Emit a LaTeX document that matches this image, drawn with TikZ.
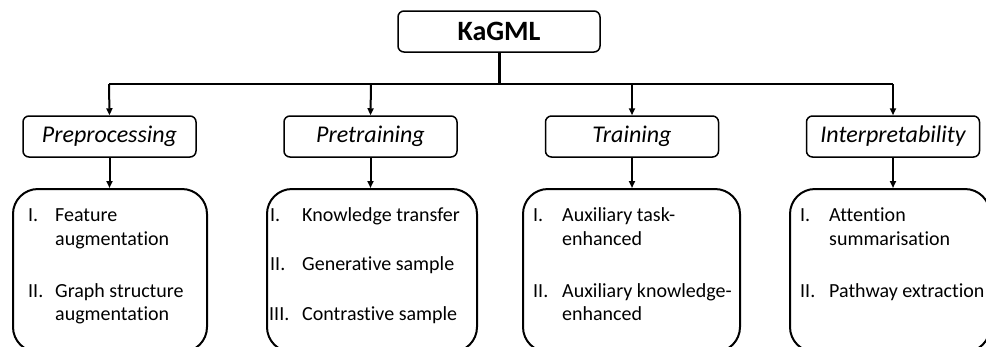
\documentclass[tikz,border=0pt]{standalone}
\usepackage{fontspec}
\setmainfont{Carlito}[Ligatures=NoCommon]
\usetikzlibrary{arrows.meta}
\tikzset{
  topbox/.style={draw, line width=1.5pt, rounded corners=6pt, minimum width=202pt, minimum height=41pt, inner sep=0pt, font=\fontsize{28}{32}\selectfont\bfseries},
  catbox/.style={draw, line width=1.5pt, rounded corners=6pt, minimum width=173pt, minimum height=41pt, inner sep=0pt, font=\fontsize{24}{28}\selectfont\itshape},
  itembox/.style={draw, line width=2pt, rounded corners=25pt, minimum height=163pt, inner sep=0pt},
  itemtxt/.style={anchor=base west, inner sep=0pt, font=\fontsize{20}{24}\selectfont},
  conn/.style={line width=2pt, -{Triangle[width=6pt,length=7pt]}},
}
\begin{document}
\begin{tikzpicture}[x=1pt,y=-1pt]
\useasboundingbox (0,0) rectangle (986,346);
\clip (0,0) rectangle (986,346);
% top
\node[topbox] (kagml) at (499,31.5) {KaGML};
\coordinate (hub) at (499,84);
\coordinate (j1) at (109,84);
\coordinate (j2) at (371,84);
\coordinate (j3) at (632,84);
\coordinate (j4) at (893,84);
% categories
\node[catbox] (pre) at (109.5,136.5) {Preprocessing};
\node[catbox] (pt) at (370.5,136.5) {Pretraining};
\node[catbox] (tr) at (632,136.5) {Training};
\node[catbox] (ip) at (893,136.5) {Interpretability};
% lower boxes
\node[itembox, minimum width=194pt] (preb) at (110,270.5) {};
\node[itembox, minimum width=210pt] (ptb) at (372,270.5) {};
\node[itembox, minimum width=217pt] (trb) at (631.5,270.5) {};
\node[itembox, minimum width=200pt] (ipb) at (890,270.5) {};
% connectors
\draw[line width=3pt] (kagml.south) -- (hub);
\draw[line width=2.5pt] (j1) -- (j4);
\draw[conn] (j1) -- (pre.north);
\draw[conn] (j2) -- (pt.north);
\draw[conn] (j3) -- (tr.north);
\draw[conn] (j4) -- (ip.north);
\draw[conn] (pre.south) -- (pre.south |- preb.north);
\draw[conn] (pt.south) -- (pt.south |- ptb.north);
\draw[conn] (tr.south) -- (tr.south |- trb.north);
\draw[conn] (ip.south) -- (ip.south |- ipb.north);
% Preprocessing items
\node[itemtxt] (a1n) at (28,221) {I.};
\node[itemtxt] (a1) at (55,221) {Feature};
\node[itemtxt] (a1b) at (55,245) {augmentation};
\node[itemtxt] (a2n) at (28,297) {II.};
\node[itemtxt] (a2) at (55,297) {Graph structure};
\node[itemtxt] (a2b) at (55,320) {augmentation};
% Pretraining items
\node[itemtxt] (b1n) at (270,221) {I.};
\node[itemtxt] (b1) at (302,221) {Knowledge transfer};
\node[itemtxt] (b2n) at (270,270) {II.};
\node[itemtxt] (b2) at (302,270) {Generative sample};
\node[itemtxt] (b3n) at (269,320) {III.};
\node[itemtxt] (b3) at (302,320) {Contrastive sample};
% Training items
\node[itemtxt] (c1n) at (533,221) {I.};
\node[itemtxt] (c1) at (562,221) {Auxiliary task-};
\node[itemtxt] (c1b) at (562,245) {enhanced};
\node[itemtxt] (c2n) at (533,297) {II.};
\node[itemtxt] (c2) at (562,297) {Auxiliary knowledge-};
\node[itemtxt] (c2b) at (562,320) {enhanced};
% Interpretability items
\node[itemtxt] (d1n) at (800,221) {I.};
\node[itemtxt] (d1) at (829,221) {Attention};
\node[itemtxt] (d1b) at (829,245) {summarisation};
\node[itemtxt] (d2n) at (800,297) {II.};
\node[itemtxt] (d2) at (829,297) {Pathway extraction};
\end{tikzpicture}
\end{document}
